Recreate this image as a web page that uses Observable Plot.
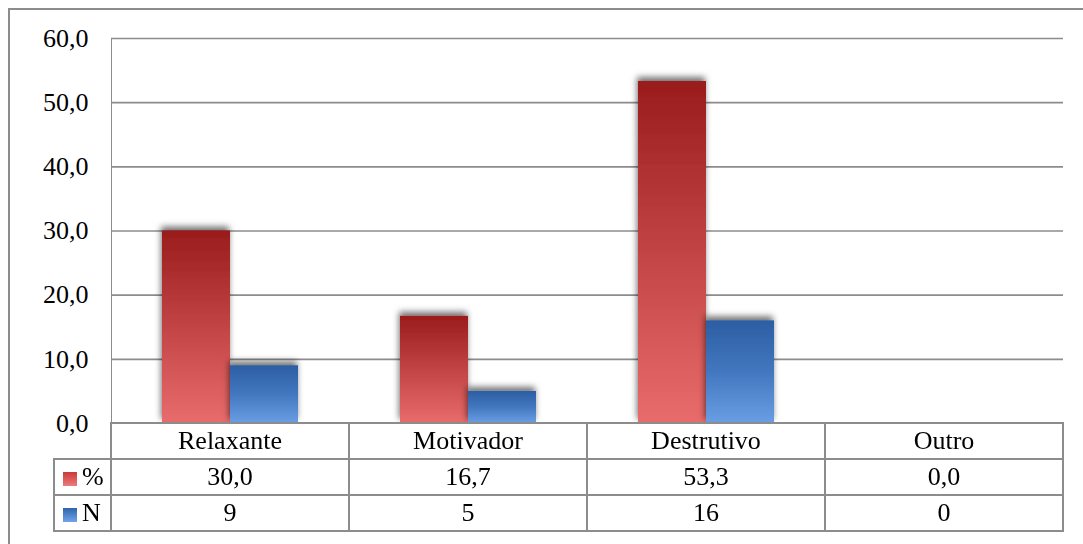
<!DOCTYPE html>
<html>
<head>
<meta charset="utf-8">
<script src="https://cdn.jsdelivr.net/npm/d3@7"></script>
<script src="https://cdn.jsdelivr.net/npm/@observablehq/plot@0.6"></script>
<style>
  html, body { margin: 0; padding: 0; background: #fff; }
  #wrap { position: relative; width: 1083px; height: 544px; overflow: hidden; font-family: "Liberation Serif", "Times New Roman", serif; }
  #frame { position: absolute; left: 8px; top: 8px; width: 1200px; height: 700px; border: 2px solid #8c8c8c; box-sizing: border-box; }
  #chart { position: absolute; left: 0; top: 0; }
  #chart svg { color: #8c8c8c; overflow: visible; }
  #chart svg text { fill: #000; }
  table { position: absolute; left: 53px; top: 422px; border-collapse: collapse; table-layout: fixed; width: 1011px; font-size: 26px; color: #000; }
  td { border: 2px solid #8c8c8c; height: 34px; padding: 0; text-align: center; line-height: 34px; white-space: nowrap; background: #fff; }
  td.blank { border-top: none; border-left: none; background: transparent; }
  td.leg { text-align: left; padding-left: 8px; }
  .sq { display: inline-block; width: 14px; height: 14px; margin-right: 5px; vertical-align: -1px; }
</style>
</head>
<body>
<div id="wrap">
  <div id="frame"></div>
  <div id="chart"></div>
  <table id="tbl"></table>
</div>
<script>
const categories = ["Relaxante", "Motivador", "Destrutivo", "Outro"];
const series = ["%", "N"];
const pctValues = [30.0, 16.7, 53.3, 0.0];
const nValues = [9, 5, 16, 0];
const yTicks = [0, 10, 20, 30, 40, 50, 60];

const fmt1 = d => d.toFixed(1).replace(".", ",");

const pctRows = categories.map((c, i) => ({cat: c, s: "%", v: pctValues[i]}));
const nRows = categories.map((c, i) => ({cat: c, s: "N", v: nValues[i]}));

const plot = Plot.plot({
  width: 1083,
  height: 445,
  marginLeft: 111,
  marginRight: 20,
  marginTop: 38,
  marginBottom: 22,
  style: {fontFamily: "Liberation Serif, Times New Roman, serif", fontSize: "26px", background: "transparent", overflow: "visible"},
  fx: {domain: categories, padding: 0, axis: null},
  x: {domain: series, paddingInner: 0, paddingOuter: 0.737, axis: null},
  y: {domain: [0, 60], ticks: yTicks, tickFormat: fmt1, tickSize: 0, tickPadding: 23, label: null, line: true},
  marks: [
    Plot.gridY(yTicks, {stroke: "#8c8c8c", strokeOpacity: 1, strokeWidth: 1.6}),
    Plot.barY(pctRows, {fx: "cat", x: "s", y: "v", fill: "url(#gRed)"}),
    Plot.barY(nRows, {fx: "cat", x: "s", y: "v", fill: "url(#gBlue)"})
  ]
});

const svg = d3.select(plot);
const defs = svg.insert("defs", ":first-child");
function grad(id, stops) {
  const g = defs.append("linearGradient").attr("id", id).attr("x1", 0).attr("y1", 0).attr("x2", 0).attr("y2", 1);
  stops.forEach(([o, c]) => g.append("stop").attr("offset", o).attr("stop-color", c));
}
grad("gRed", [[0, "#9a1c1c"], [0.5, "#c24444"], [1, "#e96c6c"]]);
grad("gBlue", [[0, "#2c5ea3"], [0.5, "#4277bf"], [1, "#6a9ee4"]]);
const f = defs.append("filter").attr("id", "sh").attr("x", "-20%").attr("y", "-20%").attr("width", "140%").attr("height", "140%");
f.append("feDropShadow").attr("dx", -1).attr("dy", -4).attr("stdDeviation", 3).attr("flood-color", "#000").attr("flood-opacity", 0.55);
svg.selectAll('g[aria-label="bar"]').attr("filter", "url(#sh)");
svg.selectAll('g[aria-label="y-axis line"] path, g[aria-label="y-axis line"] line').attr("stroke", "#8c8c8c").attr("stroke-width", 1.6).attr("stroke-opacity", 1);

document.getElementById("chart").appendChild(plot);

// data table
const tbl = d3.select("#tbl");
const cg = tbl.append("colgroup");
cg.append("col").style("width", "57px");
categories.forEach(() => cg.append("col").style("width", "238px"));
const r0 = tbl.append("tr");
r0.append("td").attr("class", "blank");
categories.forEach(c => r0.append("td").text(c));
const rowsDef = [
  {label: "%", vals: pctValues.map(fmt1), bg: "linear-gradient(#c93a3a, #ee7a7a)"},
  {label: "N", vals: nValues.map(String), bg: "linear-gradient(#2f63aa, #6fa3ea)"}
];
rowsDef.forEach(r => {
  const tr = tbl.append("tr");
  const lc = tr.append("td").attr("class", "leg");
  lc.append("span").attr("class", "sq").style("background", r.bg);
  lc.append("span").text(r.label);
  r.vals.forEach(v => tr.append("td").text(v));
});
</script>
</body>
</html>
